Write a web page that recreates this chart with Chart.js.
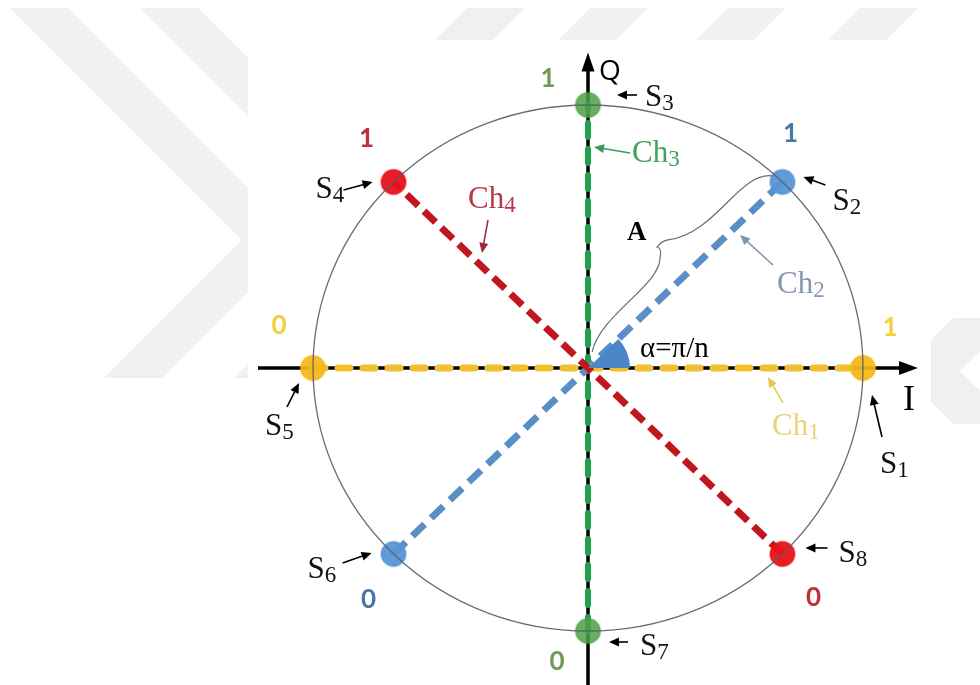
<!DOCTYPE html>
<html>
<head>
<meta charset="utf-8">
<script src="https://cdn.jsdelivr.net/npm/chart.js@4.4.0/dist/chart.umd.min.js"></script>
<style>
  html, body { margin: 0; padding: 0; background: #fff; }
  #wrap { width: 980px; height: 685px; }
</style>
</head>
<body>
<div id="wrap"><canvas id="chart" width="980" height="685"></canvas></div>
<script>
// constellation S1..S8 on the unit circle (I, Q)
const symbolNames = ["S1", "S2", "S3", "S4", "S5", "S6", "S7", "S8"];
const iValues = [1, 0.7071, 0, -0.7071, -1, -0.7071, 0, 0.7071];
const qValues = [0, 0.7071, 1, 0.7071, 0, -0.7071, -1, -0.7071];
const bitLabels = ["1", "1", "1", "1", "0", "0", "0", "0"];
// channel k joins S(k) (bit 1) and S(k+4) (bit 0)
const channelNames = ["Ch1", "Ch2", "Ch3", "Ch4"];
const axisLimit = 1.2;

// styles
const dotColors = ["rgba(245,184,22,0.93)", "rgba(86,150,212,0.95)", "rgba(76,160,72,0.85)", "rgba(232,18,24,0.95)"];
const lineColors = ["#f2bf30", "#5a8ec6", "#22a04c", "#c0161e"];
const bitColors = ["#f1cf3e", "#4c77a4", "#6f9a57", "#c0303c"];
const chTextColors = ["#ead27a", "#8399b6", "#3da35d", "#b23a4c"];
const chArrowColors = ["#e6c655", "#7d95b5", "#3a9a5a", "#9c2a36"];
const lineDash = [[12, 13], [17, 9], [14, 12], [16, 8]];
const lineCap = ["round", "butt", "round", "butt"];
const lineWidth = [7, 7, 6, 7];

// label layout, pixel offsets from each symbol
const sLabelOff = [[17, 105], [50, 28], [57, 1], [-78, 16], [-48, 67], [-86, 24], [52, 24], [56, 8]];
const sArrowOff = [[[19, 69], [9, 27]], [[43, 3], [21, -5]], [[49, -10], [29, -10]], [[-50, 8], [-21, 0]],
                   [[-26, 39], [-14, 15]], [[-51, 9], [-22, -1]], [[40, 11], [21, 11]], [[45, -6], [23, -6]]];
const bitOff = [[27, -40], [8, -48], [-40, -26], [-27, -43], [-34, -42], [-25, 46], [-31, 31], [31, 44]];
// channel labels, pixel offsets from the origin
const chTextOff = [[184, 67], [189, -75], [44, -206], [-120, -160]];
const chArrowOff = [[[195, 35], [180, 9]], [[185, -103], [152, -133]], [[42, -215], [6, -221]], [[-100, -148], [-106, -115]]];

const channelSets = channelNames.map((name, k) => ({
  label: name,
  data: [{ x: iValues[k + 4], y: qValues[k + 4] }, { x: iValues[k], y: qValues[k] }],
  showLine: true,
  borderColor: lineColors[k],
  borderWidth: lineWidth[k],
  borderDash: lineDash[k],
  borderCapStyle: lineCap[k],
  pointRadius: 0,
  order: k === 3 ? 1 : 2 + k
}));

const symbolSet = {
  label: "symbols",
  data: iValues.map((v, i) => ({ x: v, y: qValues[i] })),
  pointRadius: 12.5,
  pointHoverRadius: 12.5,
  backgroundColor: symbolNames.map((s, i) => dotColors[i % 4]),
  borderColor: symbolNames.map((s, i) => dotColors[i % 4].replace(/[\d.]+\)$/, "0.35)")),
  borderWidth: 2,
  order: 0
};

function poly(ctx, pts) {
  ctx.beginPath();
  pts.forEach((p, i) => (i ? ctx.lineTo(p[0], p[1]) : ctx.moveTo(p[0], p[1])));
  ctx.closePath();
  ctx.fill();
}

function arrow(ctx, x1, y1, x2, y2, color, w, head) {
  const a = Math.atan2(y2 - y1, x2 - x1);
  ctx.strokeStyle = color;
  ctx.fillStyle = color;
  ctx.lineWidth = w;
  ctx.beginPath();
  ctx.moveTo(x1, y1);
  ctx.lineTo(x2 - Math.cos(a) * head * 0.8, y2 - Math.sin(a) * head * 0.8);
  ctx.stroke();
  ctx.beginPath();
  ctx.moveTo(x2, y2);
  ctx.lineTo(x2 - head * Math.cos(a) + head * 0.45 * Math.sin(a), y2 - head * Math.sin(a) - head * 0.45 * Math.cos(a));
  ctx.lineTo(x2 - head * Math.cos(a) - head * 0.45 * Math.sin(a), y2 - head * Math.sin(a) + head * 0.45 * Math.cos(a));
  ctx.closePath();
  ctx.fill();
}

function subText(ctx, main, idx, x, y, color) {
  ctx.fillStyle = color;
  ctx.textAlign = "left";
  ctx.textBaseline = "alphabetic";
  ctx.font = '31px "Liberation Serif"';
  ctx.fillText(main, x, y);
  const w = ctx.measureText(main).width;
  ctx.font = '23px "Liberation Serif"';
  ctx.fillText(idx, x + w, y + 4);
}

const background = {
  id: "background",
  beforeDraw(chart) {
    const ctx = chart.ctx;
    ctx.save();
    ctx.fillStyle = "#ffffff";
    ctx.fillRect(0, 0, chart.width, chart.height);
    // faint watermark
    ctx.fillStyle = "#f0f0f0";
    [10, 140].forEach(x0 => poly(ctx, [[x0, 8], [x0 + 58, 8], [x0 + 290, 240], [x0 + 152, 378], [x0 + 94, 378], [x0 + 232, 240]]));
    [467, 590, 728, 860].forEach(x => poly(ctx, [[x, 8], [x + 58, 8], [x + 26, 40], [x - 32, 40]]));
    poly(ctx, [[953, 318], [1013, 318], [960, 371], [1013, 424], [953, 424], [900, 371]]);
    ctx.fillStyle = "#ffffff";
    ctx.fillRect(248, 40, 683, 645);
    ctx.restore();
  }
};

const axes = {
  id: "axes",
  beforeDatasetsDraw(chart) {
    const ctx = chart.ctx, xs = chart.scales.x, ys = chart.scales.y;
    const cx = xs.getPixelForValue(0), cy = ys.getPixelForValue(0);
    ctx.save();
    ctx.strokeStyle = "#000";
    ctx.fillStyle = "#000";
    ctx.lineWidth = 3.5;
    const xr = xs.getPixelForValue(axisLimit), xl = xs.getPixelForValue(-axisLimit);
    const yt = ys.getPixelForValue(axisLimit);
    ctx.beginPath();
    ctx.moveTo(xl, cy); ctx.lineTo(xr - 12, cy);
    ctx.moveTo(cx, chart.height); ctx.lineTo(cx, yt + 12);
    ctx.stroke();
    poly(ctx, [[xr, cy], [xr - 19, cy - 7], [xr - 19, cy + 7]]);
    poly(ctx, [[cx, yt], [cx - 6.5, yt + 19], [cx + 6.5, yt + 19]]);
    ctx.restore();
  }
};

const annotations = {
  id: "annotations",
  afterDatasetsDraw(chart) {
    const ctx = chart.ctx, xs = chart.scales.x, ys = chart.scales.y;
    const cx = xs.getPixelForValue(0), cy = ys.getPixelForValue(0);
    const rx = xs.getPixelForValue(1) - cx, ry = cy - ys.getPixelForValue(1);
    const px = i => [xs.getPixelForValue(iValues[i]), ys.getPixelForValue(qValues[i])];
    ctx.save();

    // unit circle
    ctx.strokeStyle = "rgba(84,94,106,0.9)";
    ctx.lineWidth = 1.3;
    ctx.beginPath();
    ctx.ellipse(cx, cy, rx, ry, 0, 0, Math.PI * 2);
    ctx.stroke();

    // angle alpha between I axis and S2
    const p2 = px(1);
    const ang = Math.atan2(cy - p2[1], p2[0] - cx);
    ctx.fillStyle = "#4a86c8";
    ctx.beginPath();
    ctx.moveTo(cx, cy);
    ctx.arc(cx, cy, 42, -ang, 0);
    ctx.closePath();
    ctx.fill();

    // brace for amplitude A
    const P = (x, y) => [xs.getPixelForValue(x), ys.getPixelForValue(y)];
    ctx.strokeStyle = "rgba(84,94,106,0.9)";
    ctx.lineWidth = 1.2;
    ctx.beginPath();
    let a = P(0.673, 0.730), b = P(0.553, 0.753), c = P(0.462, 0.506), d = P(0.291, 0.487);
    ctx.moveTo(a[0], a[1]);
    ctx.bezierCurveTo(b[0], b[1], c[0], c[1], d[0], d[1]);
    let e = P(0.269, 0.483), f = P(0.251, 0.460);
    ctx.quadraticCurveTo(e[0], e[1], f[0], f[1]);
    let g = P(0.269, 0.456), h = P(0.262, 0.418);
    ctx.quadraticCurveTo(g[0], g[1], h[0], h[1]);
    let k1 = P(0.262, 0.315), k2 = P(0.044, 0.202), k3 = P(0.015, 0.061);
    ctx.bezierCurveTo(k1[0], k1[1], k2[0], k2[1], k3[0], k3[1]);
    ctx.stroke();

    // symbol labels, arrows and bits
    symbolNames.forEach((name, i) => {
      const [x, y] = px(i);
      const ar = sArrowOff[i];
      arrow(ctx, x + ar[0][0], y + ar[0][1], x + ar[1][0], y + ar[1][1], "#000", 1.6, 10);
      subText(ctx, name[0], name.slice(1), x + sLabelOff[i][0], y + sLabelOff[i][1], "#111");
      ctx.font = 'bold 26px "Lato"';
      ctx.textAlign = "center";
      ctx.textBaseline = "middle";
      ctx.fillStyle = bitColors[i % 4];
      ctx.fillText(bitLabels[i], x + bitOff[i][0], y + bitOff[i][1]);
    });

    // channel labels
    channelNames.forEach((name, k) => {
      const ar = chArrowOff[k];
      arrow(ctx, cx + ar[0][0], cy + ar[0][1], cx + ar[1][0], cy + ar[1][1], chArrowColors[k], 1.5, 10);
      subText(ctx, name.slice(0, 2), name.slice(2), cx + chTextOff[k][0], cy + chTextOff[k][1], chTextColors[k]);
    });

    // axis names and symbols
    const yt = ys.getPixelForValue(axisLimit), xr = xs.getPixelForValue(axisLimit);
    ctx.fillStyle = "#000";
    ctx.textAlign = "left";
    ctx.textBaseline = "alphabetic";
    ctx.font = '28px "Open Sans"';
    ctx.fillText("Q", cx + 11, yt + 28);
    ctx.font = '36px "Liberation Serif"';
    ctx.fillText("I", xr - 15, cy + 42);
    ctx.font = 'bold 27px "Liberation Serif"';
    ctx.fillText("A", cx + 39, cy - 128);
    ctx.font = '29px "Liberation Serif"';
    ctx.fillText("α=π/n", cx + 52, cy - 11);
    ctx.restore();
  }
};

new Chart(document.getElementById("chart"), {
  type: "scatter",
  data: { datasets: [symbolSet, ...channelSets] },
  options: {
    responsive: false,
    animation: false,
    layout: { padding: 0, autoPadding: false },
    plugins: { legend: { display: false }, tooltip: { enabled: false } },
    scales: {
      x: { type: "linear", display: false, min: -2.1382, max: 1.4255 },
      y: { type: "linear", display: false, min: -1.2053, max: 1.3992 }
    }
  },
  plugins: [background, axes, annotations]
});
</script>
</body>
</html>
